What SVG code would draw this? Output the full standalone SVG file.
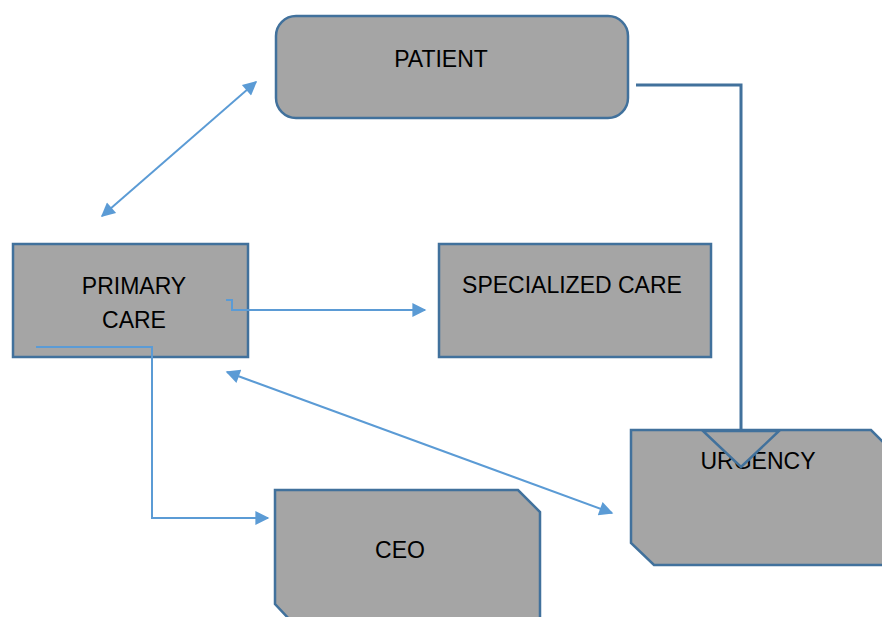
<svg xmlns="http://www.w3.org/2000/svg" width="882" height="617" viewBox="0 0 882 617">
<defs>
<style>
.node{fill:#a5a5a5;stroke:#41719c;stroke-width:2.5}
.lbl{font-family:"Liberation Sans",Arial,sans-serif;font-size:23px;fill:#000;text-anchor:middle}
.con{fill:none;stroke:#5b9bd5;stroke-width:2}
.dark{fill:none;stroke:#41719c;stroke-width:3}
</style>
<marker id="ahs" viewBox="0 0 10 10" refX="9" refY="5" markerWidth="16" markerHeight="14" markerUnits="userSpaceOnUse" orient="auto-start-reverse">
<path d="M0,0 L10,5 L0,10 z" fill="#5b9bd5"/>
</marker>
</defs>
<rect width="882" height="617" fill="#fff"/>
<g id="patient">
<rect class="node" x="276" y="16" width="352" height="102" rx="20"/>
<text class="lbl" x="441" y="67">PATIENT</text>
</g>
<g id="primary-care">
<rect class="node" x="13" y="244" width="235" height="113"/>
<text class="lbl" x="134" y="294">PRIMARY</text>
<text class="lbl" x="134" y="328">CARE</text>
</g>
<g id="specialized-care">
<rect class="node" x="439" y="244" width="272" height="113"/>
<text class="lbl" x="572" y="293">SPECIALIZED CARE</text>
</g>
<g id="urgency">
<path class="node" d="M631,430 L871,430 L884,443 L884,565 L654,565 L631,543 Z"/>
<text class="lbl" x="758" y="469">URGENCY</text>
</g>
<g id="ceo">
<path class="node" d="M275,490 L518,490 L540,512 L540,620 L290,620 L275,604 Z"/>
<text class="lbl" x="400" y="558">CEO</text>
</g>
<g id="connectors">
<line class="con" x1="102" y1="216" x2="256" y2="82" marker-start="url(#ahs)" marker-end="url(#ahs)"/>
<polyline class="con" points="226,300 232,300 232,310 425,310" marker-end="url(#ahs)"/>
<polyline class="con" points="36,347 152,347 152,518 268,518" marker-end="url(#ahs)"/>
<line class="con" x1="227" y1="372" x2="612" y2="513" marker-start="url(#ahs)" marker-end="url(#ahs)"/>
<polyline class="dark" points="636,85 741,85 741,432"/>
<path d="M703,431 L779,431 L741,467 Z" fill="#a5a5a5" stroke="#41719c" stroke-width="2.5" stroke-linejoin="miter"/>
</g>
</svg>
